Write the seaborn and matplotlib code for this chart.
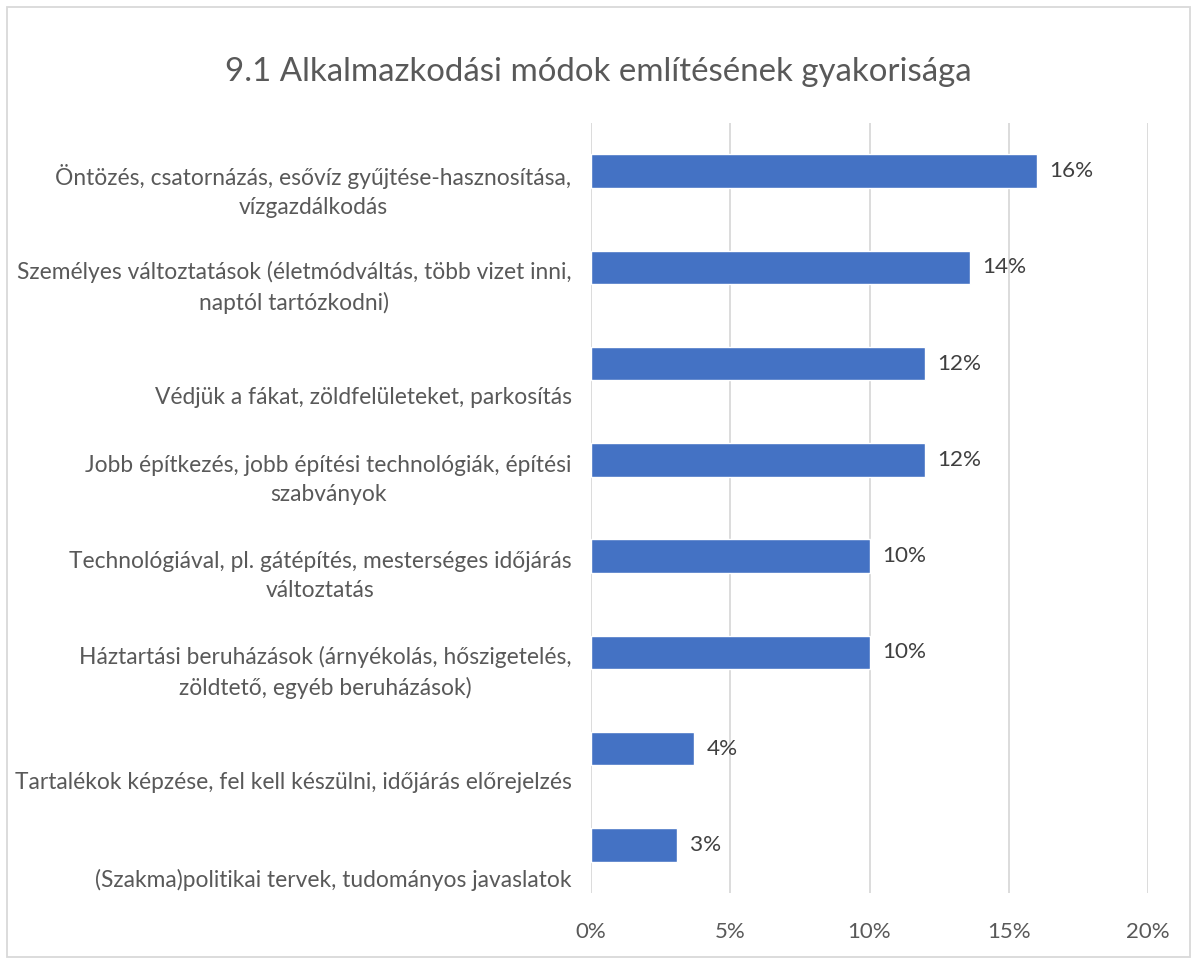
import matplotlib
matplotlib.use("Agg")
import matplotlib.pyplot as plt
import matplotlib.transforms as mtransforms
from matplotlib.patches import Rectangle
import seaborn as sns
import pandas as pd

categories = [
    "Öntözés, csatornázás, esővíz gyűjtése-hasznosítása,\nvízgazdálkodás",
    "Személyes változtatások (életmódváltás, több vizet inni,\nnaptól tartózkodni)",
    "\nVédjük a fákat, zöldfelületeket, parkosítás",
    "Jobb építkezés, jobb építési technológiák, építési\nszabványok",
    "Technológiával, pl. gátépítés, mesterséges időjárás\nváltoztatás",
    "Háztartási beruházások (árnyékolás, hőszigetelés,\nzöldtető, egyéb beruházások)",
    "\nTartalékok képzése, fel kell készülni, időjárás előrejelzés",
    "\n(Szakma)politikai tervek, tudományos javaslatok",
]
values = [16.0, 13.6, 12.0, 12.0, 10.0, 10.0, 3.7, 3.1]
xticks = [0, 5, 10, 15, 20]
xticklabels = ["0%", "5%", "10%", "15%", "20%"]
title = "9.1 Alkalmazkodási módok említésének gyakorisága"

sns.set_theme(style="white")
plt.rcParams["font.family"] = ["Lato", "DejaVu Sans"]

df = pd.DataFrame({"cat": categories, "val": values})

fig = plt.figure(figsize=(11.97, 9.64), dpi=100)
ax = fig.add_axes([591/1197, 1 - 893/964, (1148-591)/1197, (893-123)/964])

sns.barplot(data=df, x="val", y="cat", orient="h", color="#4472C4",
            saturation=1, width=0.35, ax=ax)

ax.set_xlim(0, 20)
ax.set_ylim(len(categories) - 0.5, -0.5)
ax.set_xticks(xticks)
ax.set_xticklabels(xticklabels, color="#595959", fontsize=16)
ax.tick_params(axis="x", length=0, pad=21)
ax.tick_params(axis="y", length=0, pad=14)
for lab in ax.get_yticklabels():
    lab.set_fontsize(16.4)
    lab.set_color("#595959")
    lab.set_multialignment("center")
    lab.set_linespacing(1.45)
    lab.set_transform(lab.get_transform() +
                      mtransforms.ScaledTranslation(0, -0.14, fig.dpi_scale_trans))
ax.set_xlabel("")
ax.set_ylabel("")
ax.grid(axis="x", color="#d9d9d9", linewidth=1.3)
ax.set_axisbelow(True)
for s in ax.spines.values():
    s.set_visible(False)

for i, v in enumerate(values):
    ax.annotate(f"{round(v)}%", (v, i), xytext=(9, 0), textcoords="offset points",
                va="center", ha="left", fontsize=16.2, color="#404040")

fig.text(0.5, 1 - 72/964, title, ha="center", va="center",
         fontsize=23.8, color="#595959")

fig.patches.append(Rectangle((7/1197, 7/964), (1190-7)/1197, (957-7)/964,
                             transform=fig.transFigure, fill=False,
                             edgecolor="#d9d9d9", linewidth=1.3))

fig.savefig("out.png", dpi=100)
